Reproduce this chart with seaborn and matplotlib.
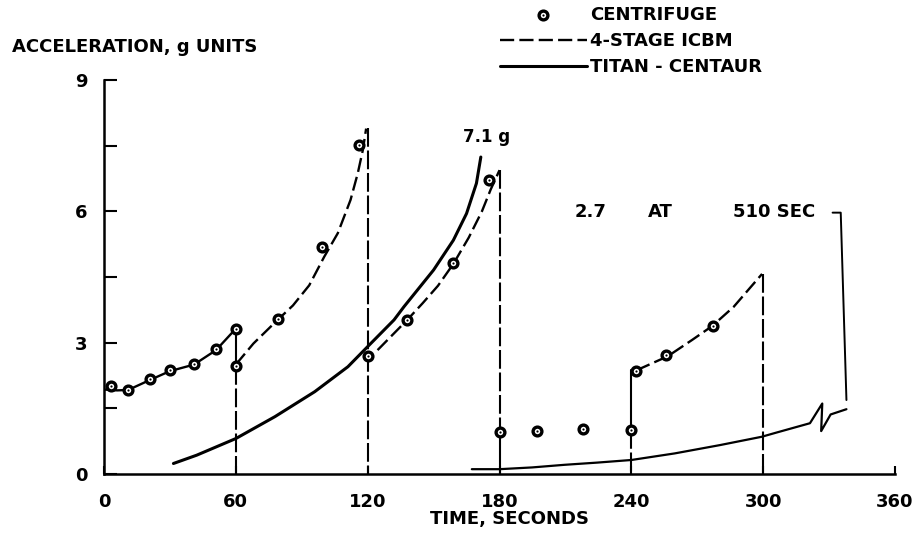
import numpy as np
import pandas as pd
import seaborn as sns
import matplotlib.pyplot as plt
from matplotlib.legend_handler import HandlerTuple

# centrifuge runs: time (s), acceleration (g)
cent_t = [3, 11, 21, 30, 41, 51, 60, 60, 79, 99, 116, 120, 138, 159, 175,
          180, 197, 218, 240, 242, 256, 277]
cent_g = [2.02, 1.92, 2.16, 2.37, 2.51, 2.85, 3.32, 2.47, 3.55, 5.19, 7.52,
          2.70, 3.52, 4.82, 6.71, 0.97, 0.98, 1.02, 1.00, 2.35, 2.72, 3.38]

# 4-stage ICBM, one list per stage
icbm1_t = [0, 6, 11, 21, 30, 41, 51, 60]
icbm1_g = [1.93, 1.91, 1.92, 2.15, 2.35, 2.50, 2.83, 3.32]
icbm2_t = [60, 68, 78.6, 86, 93.4, 100.2, 106.4, 112.2, 115.5, 117.8, 119.3]
icbm2_g = [2.50, 2.98, 3.50, 3.85, 4.31, 4.96, 5.50, 6.26, 6.87, 7.40, 7.89]
icbm3_t = [124.5, 138, 145, 152, 159, 166, 172, 176, 180]
icbm3_g = [2.83, 3.52, 3.90, 4.30, 4.80, 5.40, 6.00, 6.50, 6.94]
icbm4_t = [242.4, 256.6, 267.6, 276.8, 286.6, 294.5, 299.5]
icbm4_g = [2.37, 2.69, 3.06, 3.38, 3.82, 4.28, 4.57]

# Titan-Centaur
titan1_t = [31.6, 42.2, 60, 77.8, 95.9, 111, 120, 132, 136.5, 150, 159, 165, 169.5, 171.5]
titan1_g = [0.24, 0.43, 0.81, 1.31, 1.88, 2.45, 2.91, 3.52, 3.82, 4.66, 5.34, 5.95, 6.64, 7.24]
titan2_t = [167.4, 180, 194.8, 209.6, 224.4, 240, 259.7, 280.3, 299.3, 305.6,
            321.3, 326.9, 326.4, 330.7, 337.9]
titan2_g = [0.11, 0.11, 0.15, 0.21, 0.26, 0.32, 0.47, 0.66, 0.85, 0.94,
            1.16, 1.61, 0.98, 1.36, 1.48]

# staging drop lines
drop_t = [60, 60, 120, 180, 180, 240, 240, 300]
drop_top = [3.32, 2.47, 7.9, 6.94, 0.97, 2.37, 1.0, 4.57]
drop_bot = [2.47, 0, 0, 0.97, 0, 1.0, 0, 0]
drop_solid = [True, False, False, False, True, True, False, False]

# bracket for the 2.7 g at 510 s note
note_t = [331.6, 335.3, 337.9]
note_g = [5.97, 5.97, 1.69]

sns.set_style("white")
plt.rcParams['font.family'] = ['DejaVu Sans']
plt.rcParams['font.weight'] = 'bold'
plt.rcParams['axes.labelweight'] = 'bold'
for key in ['text.color', 'axes.labelcolor', 'xtick.color', 'ytick.color']:
    plt.rcParams[key] = 'black'

fig = plt.figure(figsize=(9.22, 5.33), dpi=100)
ax = fig.add_axes([104 / 922, 1 - 474 / 533, 791 / 922, 394 / 533])

dash_curve = (0, (6, 2.2))
dash_drop = (0, (9, 1.8))

# drop lines
for t, top, bot, solid in zip(drop_t, drop_top, drop_bot, drop_solid):
    sns.lineplot(x=[t, t], y=[top, bot], estimator=None, sort=False, ax=ax,
                 color='black', lw=1.5, linestyle='-' if solid else dash_drop)

# ICBM
sns.lineplot(x=icbm1_t, y=icbm1_g, estimator=None, sort=False, ax=ax,
             color='black', lw=1.7)
for tt, gg in [(icbm2_t, icbm2_g), (icbm3_t, icbm3_g), (icbm4_t, icbm4_g)]:
    sns.lineplot(x=tt, y=gg, estimator=None, sort=False, ax=ax,
                 color='black', lw=1.7, linestyle=dash_curve)
icbm_line = ax.lines[-1]

# Titan-Centaur
sns.lineplot(x=titan1_t, y=titan1_g, estimator=None, sort=False, ax=ax,
             color='black', lw=2.2)
titan_line = ax.lines[-1]
sns.lineplot(x=titan2_t, y=titan2_g, estimator=None, sort=False, ax=ax,
             color='black', lw=1.6)

sns.lineplot(x=note_t, y=note_g, estimator=None, sort=False, ax=ax,
             color='black', lw=1.4)

# centrifuge points
sns.scatterplot(x=cent_t, y=cent_g, ax=ax, s=40, color='white',
                edgecolor='black', linewidth=2.4, zorder=5, clip_on=False)
ring = ax.collections[-1]
sns.scatterplot(x=cent_t, y=cent_g, ax=ax, s=2.5, color='black',
                linewidth=0, zorder=6, clip_on=False)
dot = ax.collections[-1]

ax.text(163.5, 7.7, "7.1 g", fontsize=12, ha='left', va='center')
ax.text(214.4, 5.99, "2.7", fontsize=13, ha='left', va='center')
ax.text(247.6, 5.99, "AT", fontsize=13, ha='left', va='center')
ax.text(323.9, 5.99, "510 SEC", fontsize=13, ha='right', va='center')

ax.set_xlim(0, 360)
ax.set_ylim(0, 9)
ax.set_xticks([0, 60, 120, 180, 240, 300, 360])
ax.set_yticks([0, 3, 6, 9])
ax.set_yticks([1.5, 4.5, 7.5], minor=True)
ax.tick_params(axis='y', which='both', direction='in', length=9, width=1.5,
               pad=12, labelsize=13, left=True)
ax.tick_params(axis='x', direction='in', length=6, width=1.5, pad=14,
               labelsize=13, bottom=True)
sns.despine(ax=ax)
for side in ['left', 'bottom']:
    ax.spines[side].set_linewidth(1.8)
    ax.spines[side].set_color('black')

ax.set_ylabel("ACCELERATION, g UNITS", rotation=0, fontsize=13,
              ha='left', va='center')
ax.yaxis.set_label_coords(-0.116, 1.085)
ax.set_xlabel("TIME, SECONDS", fontsize=13, va='center')
ax.xaxis.set_label_coords(0.513, -0.114)

ax.legend([(ring, dot), icbm_line, titan_line],
          ["CENTRIFUGE", "4-STAGE ICBM", "TITAN - CENTAUR"],
          handler_map={tuple: HandlerTuple(ndivide=1, pad=0)},
          loc='upper left', bbox_to_anchor=(500 / 922, 1 - 6 / 533),
          bbox_transform=fig.transFigure, frameon=False, fontsize=13,
          handlelength=4.8, handletextpad=0.2, labelspacing=0.45,
          borderpad=0, borderaxespad=0)

plt.savefig("out.png", dpi=100)
